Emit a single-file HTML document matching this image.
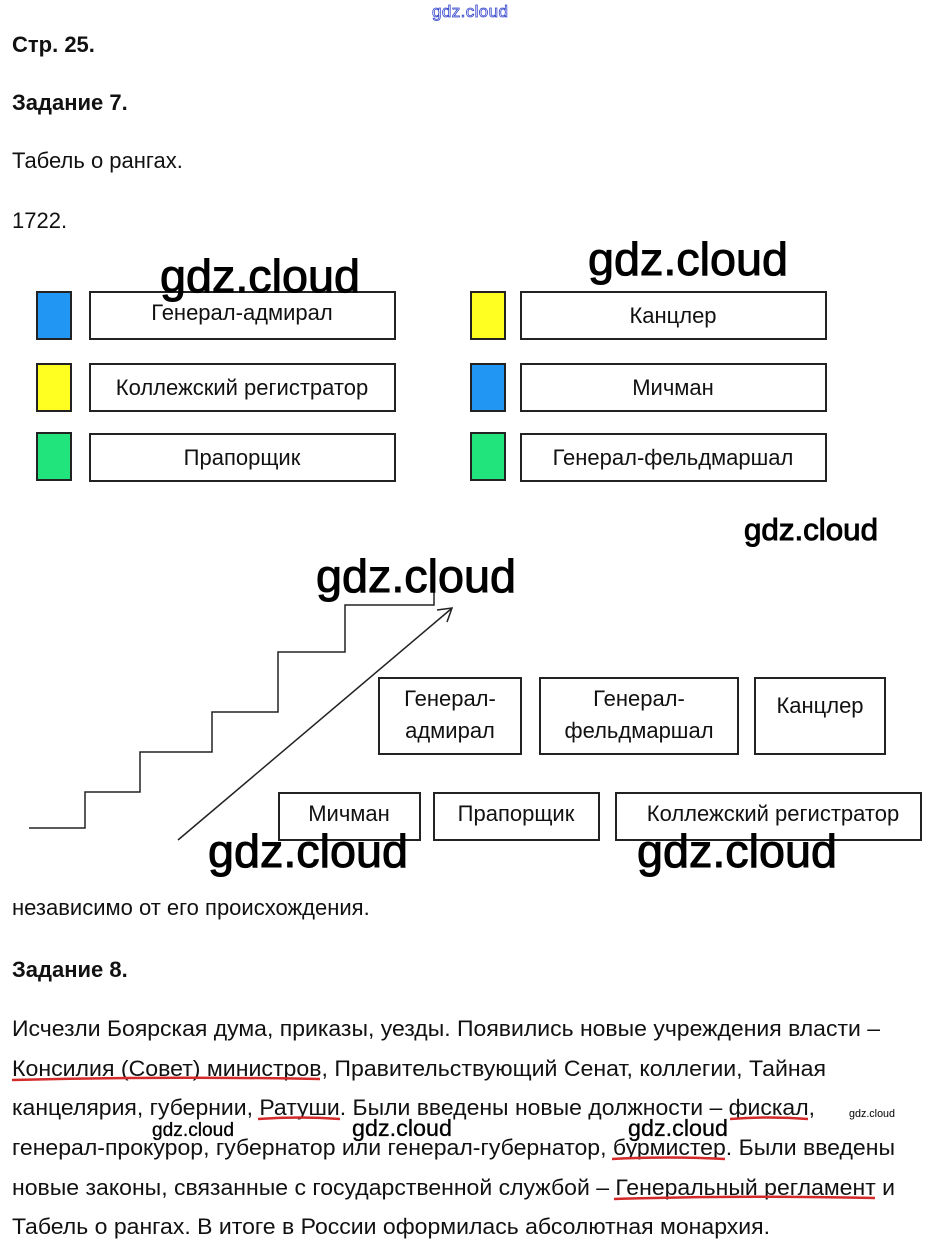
<!DOCTYPE html>
<html><head><meta charset="utf-8"><style>
html,body{margin:0;padding:0;background:#fff;}
svg{display:block;}
text{font-family:"Liberation Sans",Arial,sans-serif;fill:#111;}
.w{font-family:"Liberation Sans",sans-serif;fill:#000;stroke:#000;stroke-width:1;}
</style></head><body>
<svg width="940" height="1253" viewBox="0 0 940 1253" xmlns="http://www.w3.org/2000/svg">
<rect width="940" height="1253" fill="#fff"/>
<text x="432" y="17" font-size="17" textLength="76" style="fill:#fff;stroke:#3344cc;stroke-width:0.8">gdz.cloud</text>

<text x="12" y="52" font-size="22" font-weight="bold">Стр. 25.</text>
<text x="12" y="110" font-size="22" font-weight="bold">Задание 7.</text>
<text x="12" y="168" font-size="22">Табель о рангах.</text>
<text x="12" y="228" font-size="22">1722.</text>

<g stroke="#222" stroke-width="2">
<rect x="37" y="292" width="34" height="47" fill="#2196f3"/>
<rect x="37" y="364" width="34" height="47" fill="#ffff22"/>
<rect x="37" y="433" width="34" height="47" fill="#22e47c"/>
<rect x="471" y="292" width="34" height="47" fill="#ffff22"/>
<rect x="471" y="364" width="34" height="47" fill="#2196f3"/>
<rect x="471" y="433" width="34" height="47" fill="#22e47c"/>
<g fill="#fff">
<rect x="90" y="292" width="305" height="47"/>
<rect x="90" y="364" width="305" height="47"/>
<rect x="90" y="434" width="305" height="47"/>
<rect x="521" y="292" width="305" height="47"/>
<rect x="521" y="364" width="305" height="47"/>
<rect x="521" y="434" width="305" height="47"/>
</g></g>
<g font-size="22" text-anchor="middle">
<text x="242" y="320">Генерал-адмирал</text>
<text x="242" y="395">Коллежский регистратор</text>
<text x="242" y="465">Прапорщик</text>
<text x="673" y="323">Канцлер</text>
<text x="673" y="395">Мичман</text>
<text x="673" y="465">Генерал-фельдмаршал</text>
</g>

<polyline fill="none" stroke="#222" stroke-width="1.5" points="29,828 85,828 85,792 140,792 140,752 212,752 212,712 278,712 278,652 345,652 345,605 434,605 434,575"/>
<line x1="178" y1="840" x2="451" y2="609" stroke="#222" stroke-width="1.5"/>
<polyline fill="none" stroke="#222" stroke-width="1.5" points="437,610 452,608 447,622"/>

<g stroke="#222" stroke-width="2" fill="#fff">
<rect x="379" y="678" width="142" height="76"/>
<rect x="540" y="678" width="198" height="76"/>
<rect x="755" y="678" width="130" height="76"/>
<rect x="279" y="793" width="141" height="47"/>
<rect x="434" y="793" width="165" height="47"/>
<rect x="616" y="793" width="305" height="47"/>
</g>
<g font-size="22" text-anchor="middle">
<text x="450" y="706">Генерал-</text>
<text x="450" y="738">адмирал</text>
<text x="639" y="706">Генерал-</text>
<text x="639" y="738">фельдмаршал</text>
<text x="820" y="713">Канцлер</text>
<text x="349" y="821">Мичман</text>
<text x="516" y="821">Прапорщик</text>
<text x="773" y="821">Коллежский регистратор</text>
</g>

<text x="12" y="915" font-size="22">независимо от его происхождения.</text>
<text x="12" y="977" font-size="22" font-weight="bold">Задание 8.</text>

<g font-size="22">
<text x="12" y="1036" textLength="868" lengthAdjust="spacingAndGlyphs">Исчезли Боярская дума, приказы, уезды. Появились новые учреждения власти –</text>
<text x="12" y="1076" textLength="814" lengthAdjust="spacingAndGlyphs">Консилия (Совет) министров, Правительствующий Сенат, коллегии, Тайная</text>
<text x="12" y="1115" textLength="803" lengthAdjust="spacingAndGlyphs">канцелярия, губернии, Ратуши. Были введены новые должности – фискал,</text>
<text x="12" y="1155" textLength="883" lengthAdjust="spacingAndGlyphs">генерал-прокурор, губернатор или генерал-губернатор, бурмистер. Были введены</text>
<text x="12" y="1195" textLength="883" lengthAdjust="spacingAndGlyphs">новые законы, связанные с государственной службой – Генеральный регламент и</text>
<text x="12" y="1234" textLength="758" lengthAdjust="spacingAndGlyphs">Табель о рангах. В итоге в России оформилась абсолютная монархия.</text>
</g>
<g stroke="#d42a2a" stroke-width="2.5" fill="none">
<path d="M12 1080 Q160 1076 320 1079"/>
<path d="M258 1119 Q300 1116 340 1119"/>
<path d="M730 1119 Q770 1116 808 1119"/>
<path d="M612 1159 Q670 1156 725 1159"/>
<path d="M614 1199 Q740 1195 875 1198"/>
</g>

<text class="w" x="160" y="292" font-size="46" textLength="200" lengthAdjust="spacingAndGlyphs">gdz.cloud</text>
<text class="w" x="588" y="275" font-size="46" textLength="200" lengthAdjust="spacingAndGlyphs">gdz.cloud</text>
<text class="w" x="316" y="592" font-size="46" textLength="200" lengthAdjust="spacingAndGlyphs">gdz.cloud</text>
<text class="w" x="208" y="867" font-size="46" textLength="200" lengthAdjust="spacingAndGlyphs">gdz.cloud</text>
<text class="w" x="637" y="867" font-size="46" textLength="200" lengthAdjust="spacingAndGlyphs">gdz.cloud</text>
<text class="w" x="744" y="540" font-size="31" textLength="134" lengthAdjust="spacingAndGlyphs">gdz.cloud</text>
<text class="w" x="152" y="1136" font-size="19" textLength="82" lengthAdjust="spacingAndGlyphs" style="stroke-width:0.3">gdz.cloud</text>
<text class="w" x="352" y="1136" font-size="23" textLength="100" lengthAdjust="spacingAndGlyphs" style="stroke-width:0.3">gdz.cloud</text>
<text class="w" x="628" y="1136" font-size="23" textLength="100" lengthAdjust="spacingAndGlyphs" style="stroke-width:0.3">gdz.cloud</text>
<text class="w" x="849" y="1117" font-size="11" textLength="46" lengthAdjust="spacingAndGlyphs" style="stroke-width:0">gdz.cloud</text>
</svg>
</body></html>
